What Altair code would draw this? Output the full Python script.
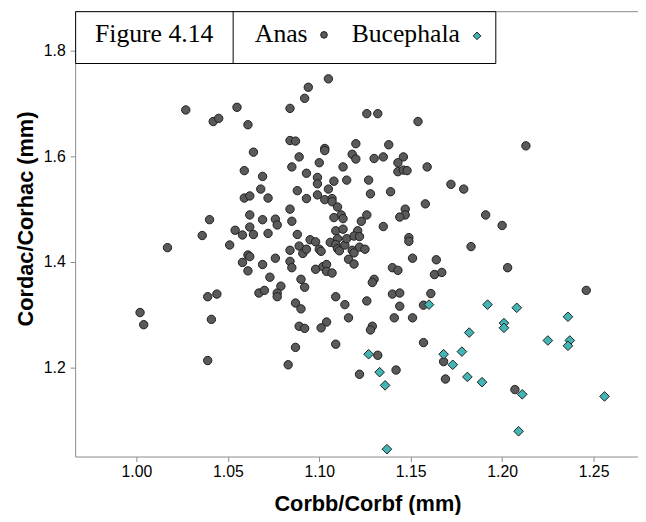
import altair as alt
import pandas as pd

# ---- data ----
anas_x = [
    1.027, 1.042, 1.045, 1.055, 1.061, 1.064, 1.059, 1.069, 1.068, 1.059,
    1.062, 1.072, 1.040, 1.062, 1.069, 1.105, 1.094, 1.092, 1.084, 1.126,
    1.132, 1.154, 1.084, 1.087, 1.120, 1.138, 1.103, 1.103, 1.089, 1.118,
    1.120, 1.130, 1.135, 1.146, 1.143, 1.100, 1.085, 1.113, 1.159, 1.143,
    1.146, 1.148, 1.093, 1.099, 1.099, 1.108, 1.115, 1.127, 1.172, 1.088,
    1.105, 1.128, 1.139, 1.093, 1.099, 1.103, 1.107, 1.107, 1.110, 1.158,
    1.084, 1.147, 1.147, 1.144, 1.126, 1.112, 1.108, 1.113, 1.076, 1.085,
    1.123, 1.213, 1.179, 1.191, 1.036, 1.054, 1.058, 1.062, 1.064, 1.072,
    1.017, 1.051, 1.061, 1.062, 1.058, 1.069, 1.061, 1.073, 1.039, 1.044,
    1.067, 1.070, 1.002, 1.004, 1.041, 1.039, 1.077, 1.088, 1.109, 1.113,
    1.121, 1.135, 1.076, 1.084, 1.089, 1.091, 1.093, 1.095, 1.098, 1.100,
    1.101, 1.106, 1.110, 1.109, 1.110, 1.111, 1.114, 1.115, 1.119, 1.122,
    1.118, 1.119, 1.122, 1.125, 1.116, 1.119, 1.149, 1.149, 1.151, 1.164,
    1.084, 1.085, 1.098, 1.102, 1.104, 1.104, 1.107, 1.140, 1.143, 1.163,
    1.167, 1.090, 1.092, 1.079, 1.077, 1.077, 1.130, 1.129, 1.109, 1.126,
    1.140, 1.144, 1.161, 1.087, 1.090, 1.114, 1.144, 1.157, 1.116, 1.141,
    1.151, 1.104, 1.101, 1.089, 1.092, 1.129, 1.128, 1.087, 1.109, 1.157,
    1.132, 1.083, 1.142, 1.122, 1.168, 1.169, 1.200, 1.183, 1.203, 1.246,
    1.207,
]
anas_y = [
    1.688, 1.666, 1.672, 1.693, 1.660, 1.608, 1.573, 1.562, 1.538, 1.521,
    1.525, 1.521, 1.480, 1.489, 1.480, 1.747, 1.731, 1.710, 1.691, 1.681,
    1.681, 1.666, 1.630, 1.629, 1.624, 1.622, 1.615, 1.611, 1.599, 1.604,
    1.595, 1.596, 1.599, 1.599, 1.588, 1.588, 1.580, 1.580, 1.580, 1.571,
    1.574, 1.573, 1.568, 1.560, 1.548, 1.553, 1.555, 1.555, 1.547, 1.535,
    1.538, 1.529, 1.533, 1.520, 1.527, 1.518, 1.520, 1.514, 1.504, 1.510,
    1.500, 1.500, 1.489, 1.485, 1.489, 1.489, 1.484, 1.482, 1.481, 1.477,
    1.477, 1.620, 1.538, 1.489, 1.450, 1.460, 1.451, 1.466, 1.452, 1.454,
    1.427, 1.432, 1.413, 1.410, 1.399, 1.395, 1.383, 1.371, 1.334, 1.339,
    1.341, 1.346, 1.304, 1.281, 1.291, 1.213, 1.470, 1.452, 1.459, 1.462,
    1.459, 1.467, 1.407, 1.422, 1.430, 1.416, 1.424, 1.442, 1.438, 1.424,
    1.420, 1.437, 1.444, 1.433, 1.425, 1.421, 1.432, 1.444, 1.449, 1.448,
    1.422, 1.417, 1.428, 1.424, 1.405, 1.396, 1.446, 1.439, 1.407, 1.404,
    1.401, 1.389, 1.386, 1.391, 1.395, 1.382, 1.379, 1.389, 1.384, 1.376,
    1.380, 1.367, 1.352, 1.354, 1.341, 1.334, 1.367, 1.361, 1.334, 1.326,
    1.339, 1.341, 1.340, 1.322, 1.311, 1.319, 1.316, 1.318, 1.294, 1.294,
    1.294, 1.286, 1.275, 1.278, 1.274, 1.278, 1.271, 1.238, 1.244, 1.247,
    1.223, 1.205, 1.195, 1.187, 1.211, 1.178, 1.469, 1.429, 1.389, 1.346,
    1.158,
]
buc_x = [1.160, 1.127, 1.133, 1.168, 1.173, 1.192, 1.208, 1.236, 1.201, 1.201, 1.182,
         1.225, 1.237, 1.236, 1.178, 1.181, 1.189, 1.136, 1.211, 1.256, 1.209, 1.137]
buc_y = [1.319, 1.225, 1.191, 1.225, 1.205, 1.319, 1.313, 1.296, 1.284, 1.275, 1.266,
         1.251, 1.251, 1.241, 1.230, 1.182, 1.172, 1.166, 1.149, 1.145, 1.079, 1.045]

species = ["Anas", "Bucephala"]
x_ticks = [1.00, 1.05, 1.10, 1.15, 1.20, 1.25]
y_ticks = [1.2, 1.4, 1.6, 1.8]
fig_label = "Figure 4.14"

df = pd.DataFrame({
    "x": anas_x + buc_x,
    "y": anas_y + buc_y,
    "species": ["Anas"] * len(anas_x) + ["Bucephala"] * len(buc_x),
})

W, H = 570, 451
AXIS_GRAY = "#8a8a8a"
ANAS_FILL = "#5a5a5a"
BUC_FILL = "#43b5b5"
EDGE = "#1e1e1e"

xscale = alt.Scale(domain=[0.9665, 1.2743], nice=False, zero=False)
yscale = alt.Scale(domain=[1.0311, 1.8752], nice=False, zero=False)

points = alt.Chart(df).mark_point(filled=True, stroke=EDGE, strokeWidth=1, opacity=1).encode(
    x=alt.X("x:Q", scale=xscale, title="Corbb/Corbf (mm)",
            axis=alt.Axis(values=x_ticks, format=".2f", grid=False, labelPadding=2,
                          titleX=296, titleY=48, titleBaseline="middle", titleAlign="center")),
    y=alt.Y("y:Q", scale=yscale, title="Cordac/Corhac (mm)",
            axis=alt.Axis(values=y_ticks, format=".1f", grid=False, labelPadding=5,
                          titleX=-50, titleY=210, titleAngle=270,
                          titleBaseline="middle", titleAlign="center")),
    shape=alt.Shape("species:N", scale=alt.Scale(domain=species, range=["circle", "diamond"]), legend=None),
    fill=alt.Fill("species:N", scale=alt.Scale(domain=species, range=[ANAS_FILL, BUC_FILL]), legend=None),
    size=alt.Size("species:N", scale=alt.Scale(domain=species, range=[72, 95]), legend=None),
)

one = pd.DataFrame({"k": [0]})

top_rule = alt.Chart(one).mark_rule(color=AXIS_GRAY, strokeWidth=1).encode(
    x=alt.value(0), x2=alt.value(W), y=alt.value(0.5))

box = alt.Chart(one).mark_rect(fill="white", stroke="black", strokeWidth=1).encode(
    x=alt.value(0.5), x2=alt.value(426), y=alt.value(0.5), y2=alt.value(53))
divider = alt.Chart(one).mark_rule(color="black", strokeWidth=1).encode(
    x=alt.value(160), y=alt.value(0.5), y2=alt.value(53))

serif = dict(font="Liberation Serif", fontSize=26, color="black", baseline="middle")
t_fig = alt.Chart(one).mark_text(align="center", **serif).encode(
    x=alt.value(80), y=alt.value(23), text=alt.value(fig_label))
t_anas = alt.Chart(one).mark_text(align="left", **serif).encode(
    x=alt.value(182), y=alt.value(23), text=alt.value(species[0]))
t_buc = alt.Chart(one).mark_text(align="left", **serif).encode(
    x=alt.value(280), y=alt.value(23), text=alt.value(species[1]))
m_anas = alt.Chart(one).mark_point(shape="circle", filled=True, fill=ANAS_FILL, stroke=EDGE,
                                   strokeWidth=1, opacity=1, size=45).encode(
    x=alt.value(252), y=alt.value(24))
m_buc = alt.Chart(one).mark_point(shape="diamond", filled=True, fill=BUC_FILL, stroke=EDGE,
                                  strokeWidth=1, opacity=1, size=60).encode(
    x=alt.value(407), y=alt.value(25))

chart = alt.layer(
    points, top_rule, box, divider, t_fig, t_anas, t_buc, m_anas, m_buc
).properties(
    width=W, height=H,
    autosize=alt.AutoSizeParams(type="none"),
    padding={"left": 68, "top": 0, "right": 0, "bottom": 56},
    background="white",
).configure_view(
    strokeWidth=0
).configure_axis(
    domainColor=AXIS_GRAY, tickColor=AXIS_GRAY, tickSize=5, domainWidth=1,
    labelFont="Liberation Sans", labelFontSize=16, labelColor="black",
    titleFont="Liberation Sans", titleFontSize=22, titleFontWeight="bold", titleColor="black",
)

chart.save("out.html", embed_options={"renderer": "svg", "actions": False})
